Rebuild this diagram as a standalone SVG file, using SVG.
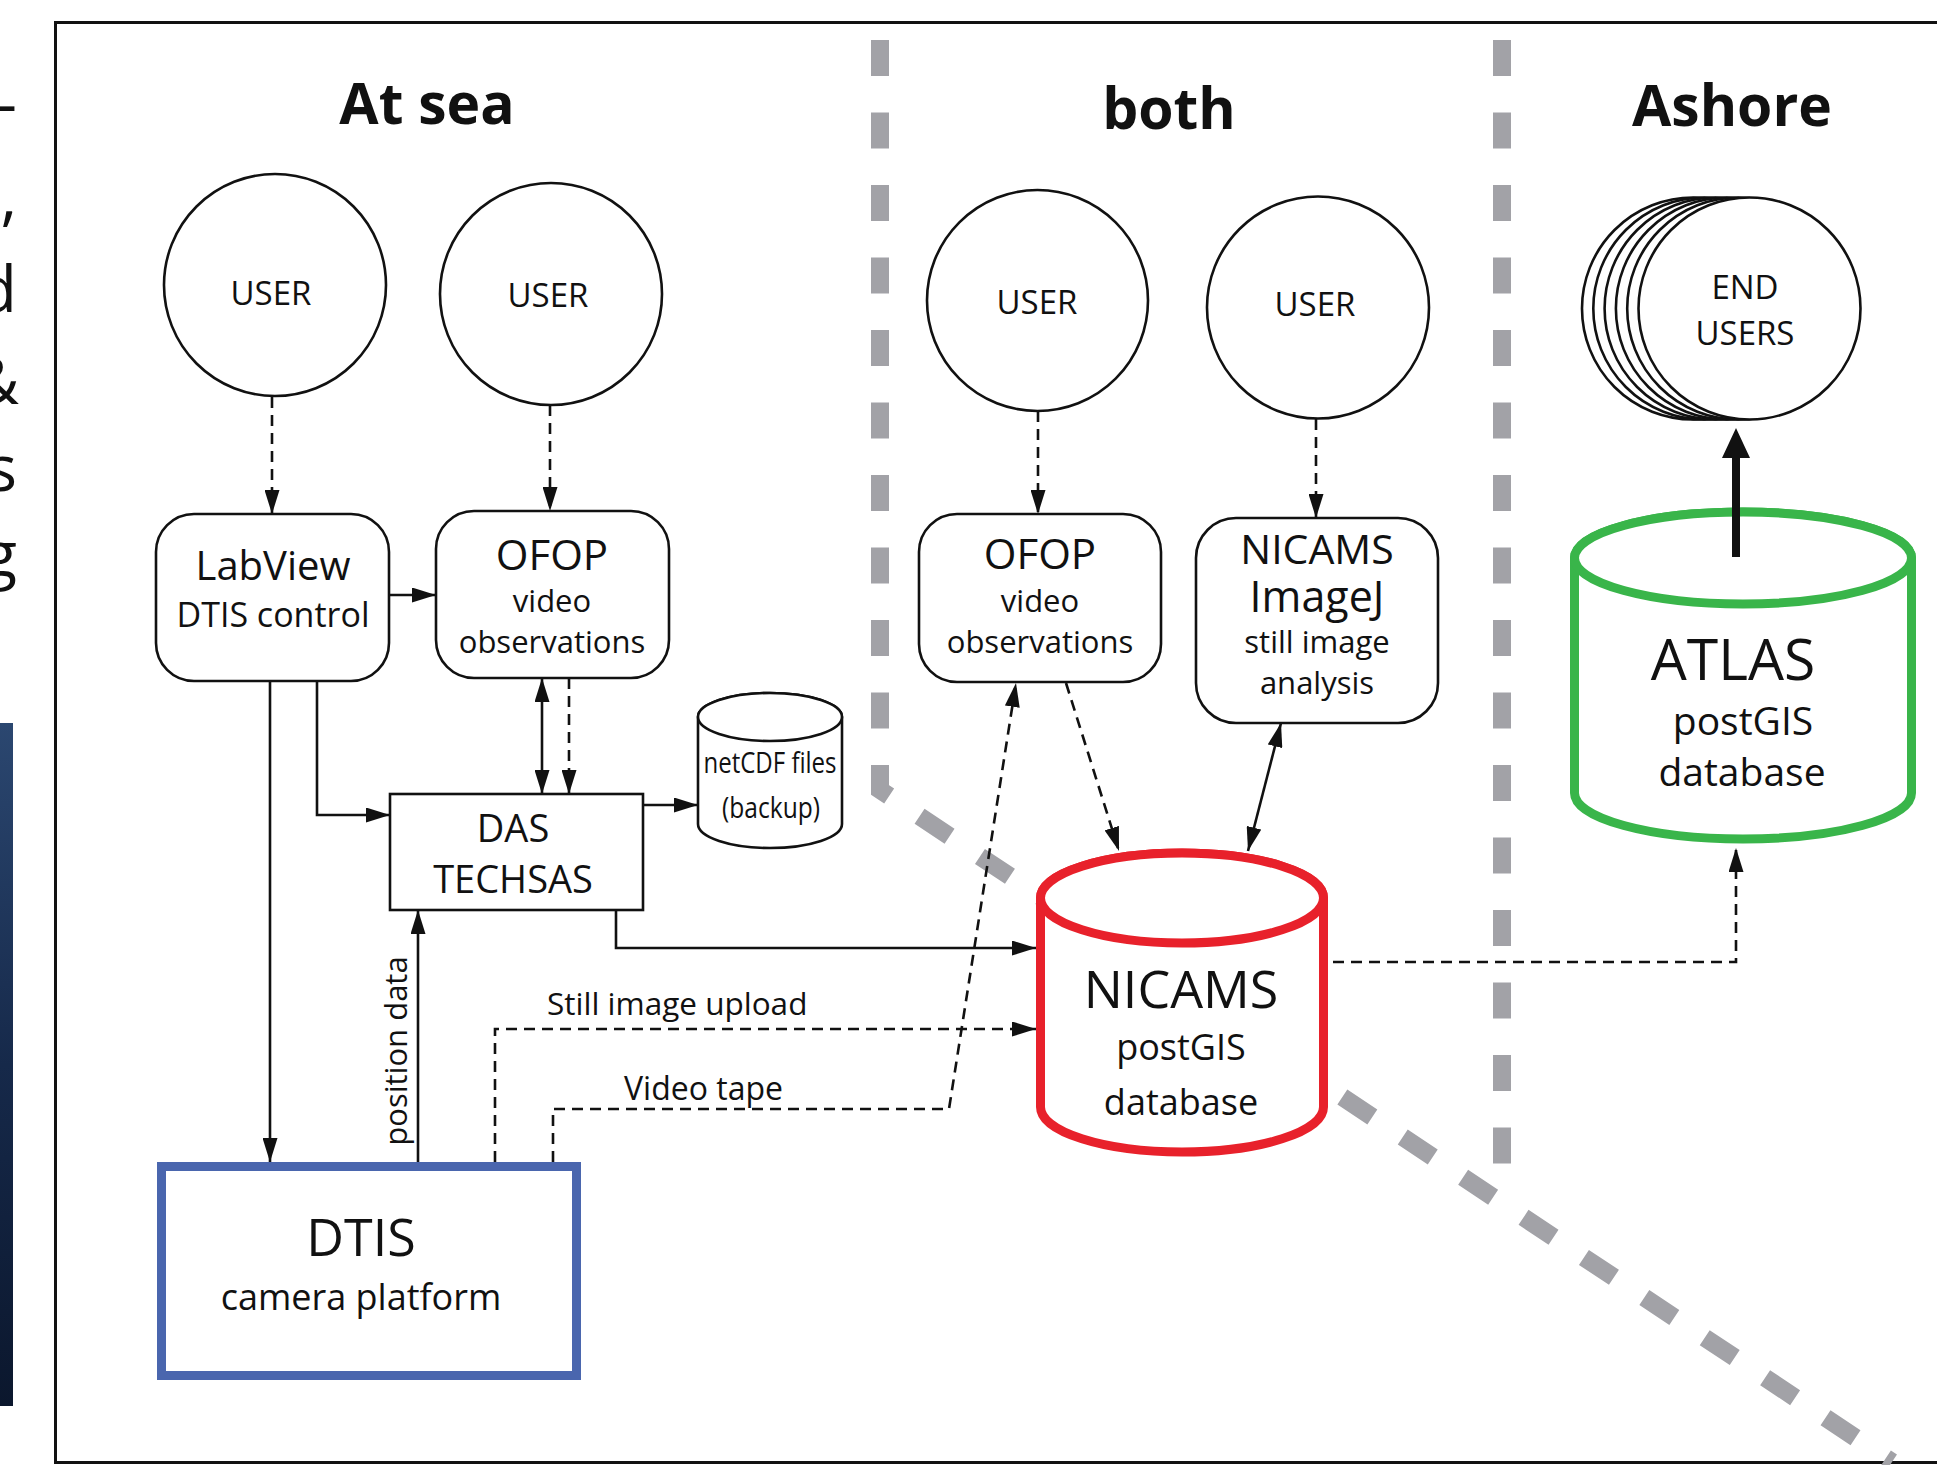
<svg xmlns="http://www.w3.org/2000/svg" width="1937" height="1465" viewBox="0 0 1937 1465">
<defs>
<style>
text{font-family:"Open Sans","Liberation Sans",sans-serif;fill:#111;}
.h{font-weight:bold;font-size:57px;text-anchor:middle;}
.m{text-anchor:middle;}
.ln{fill:none;stroke:#111;stroke-width:2.6;}
.dash{stroke-dasharray:11 7;}
.node{fill:#fff;stroke:#111;stroke-width:2.6;}
.gray{fill:none;stroke:#a2a2a7;stroke-width:18;stroke-dasharray:36 36.5;}
</style>
<marker id="ah" viewBox="0 0 24 15" refX="24" refY="7.5" markerWidth="24" markerHeight="15" markerUnits="userSpaceOnUse" orient="auto-start-reverse"><path d="M0,0 L24,7.5 L0,15 z" fill="#111"/></marker>
<linearGradient id="navy" x1="0" y1="0" x2="0" y2="1"><stop offset="0" stop-color="#2b4770"/><stop offset="0.5" stop-color="#16294a"/><stop offset="1" stop-color="#0b172d"/></linearGradient>
</defs>
<rect width="1937" height="1465" fill="#fff"/>

<g id="edge-fragments">
<rect x="0" y="723" width="13" height="683" fill="url(#navy)"/>
<text x="17" y="126" font-size="64" text-anchor="end">–</text>
<text x="17" y="219" font-size="64" text-anchor="end">,</text>
<text x="17" y="312" font-size="64" text-anchor="end">d</text>
<text x="19" y="404" font-size="64" text-anchor="end">&amp;</text>
<text x="17" y="491" font-size="64" text-anchor="end">s</text>
<text x="17" y="577" font-size="64" text-anchor="end">g</text>
</g>

<rect id="frame" x="55.5" y="22.5" width="1920" height="1440" fill="none" stroke="#111" stroke-width="3"/>

<g id="zones">
<path class="gray" d="M880 40 V790 L1892 1462"/>
<path class="gray" d="M1502 40 V1164"/>
<text class="h" x="427" y="124">At sea</text>
<text class="h" x="1169" y="129">both</text>
<text class="h" x="1732" y="126">Ashore</text>
</g>

<g id="connectors">
<path class="ln dash" d="M272 397 V514" marker-end="url(#ah)"/>
<path class="ln dash" d="M550 405 V511" marker-end="url(#ah)"/>
<path class="ln" d="M389 595 H436" marker-end="url(#ah)"/>
<path class="ln" d="M270 681 V1162" marker-end="url(#ah)"/>
<path class="ln" d="M317 681 V815 H390" marker-end="url(#ah)"/>
<path class="ln" d="M542 678 V794" marker-start="url(#ah)" marker-end="url(#ah)"/>
<path class="ln dash" d="M569 678 V794" marker-end="url(#ah)"/>
<path class="ln" d="M643 805 H698" marker-end="url(#ah)"/>
<path class="ln" d="M418 1162 V910" marker-end="url(#ah)"/>
<path class="ln" d="M616 910 V948 H1036" marker-end="url(#ah)"/>
<path class="ln dash" d="M495 1162 V1029 H1036" marker-end="url(#ah)"/>
<path class="ln dash" d="M553 1162 V1109 H949 L1016 683" marker-end="url(#ah)"/>
<path class="ln dash" d="M1038 411 V514" marker-end="url(#ah)"/>
<path class="ln dash" d="M1316 419 V518" marker-end="url(#ah)"/>
<path class="ln dash" d="M1066 683 L1119 851" marker-end="url(#ah)"/>
<path class="ln" d="M1281 723 L1248 851" marker-start="url(#ah)" marker-end="url(#ah)"/>
<path class="ln dash" d="M1333 962 H1736 V848" marker-end="url(#ah)"/>
<text x="547" y="1015" font-size="31.5">Still image upload</text>
<text x="624" y="1100" font-size="32">Video tape</text>
<text class="m" x="407" y="1051" font-size="31" transform="rotate(-90 407 1051)">position data</text>
</g>

<g id="user1"><circle class="node" cx="275" cy="285" r="111"/><text class="m" x="271" y="305" font-size="33">USER</text></g>
<g id="user2"><circle class="node" cx="551" cy="294" r="111"/><text class="m" x="548" y="307" font-size="33">USER</text></g>
<g id="user3"><circle class="node" cx="1037.5" cy="300.5" r="110.5"/><text class="m" x="1037" y="314" font-size="33">USER</text></g>
<g id="user4"><circle class="node" cx="1318" cy="307.5" r="111"/><text class="m" x="1315" y="316" font-size="33">USER</text></g>

<g id="labview"><rect class="node" x="156" y="514" width="233" height="167" rx="38"/>
<text class="m" x="273" y="580" font-size="40">LabView</text>
<text class="m" x="273" y="627" font-size="34">DTIS control</text></g>

<g id="ofop1"><rect class="node" x="436" y="511" width="233" height="167" rx="38"/>
<text class="m" x="552" y="570" font-size="42">OFOP</text>
<text class="m" x="552" y="612" font-size="31">video</text>
<text class="m" x="552" y="653" font-size="31">observations</text></g>

<g id="das"><rect class="node" x="390" y="794" width="253" height="116"/>
<text class="m" x="513" y="842" font-size="38">DAS</text>
<text class="m" x="513" y="893" font-size="38">TECHSAS</text></g>

<g id="netcdf"><path class="node" d="M698 717 V824 A72 24 0 0 0 842 824 V717 A72 24 0 0 0 698 717 Z"/>
<ellipse class="node" cx="770" cy="717" rx="72" ry="24"/>
<text class="m" x="770" y="773" font-size="30" textLength="133" lengthAdjust="spacingAndGlyphs">netCDF files</text>
<text class="m" x="771" y="818" font-size="30" textLength="98" lengthAdjust="spacingAndGlyphs">(backup)</text></g>

<g id="dtis"><rect x="161.5" y="1166.5" width="415" height="209" fill="#fff" stroke="#4a66ae" stroke-width="9"/>
<text class="m" x="361" y="1256" font-size="52">DTIS</text>
<text class="m" x="361" y="1310" font-size="36">camera platform</text></g>

<g id="ofop2"><rect class="node" x="919" y="514" width="242" height="168" rx="38"/>
<text class="m" x="1040" y="569" font-size="42">OFOP</text>
<text class="m" x="1040" y="612" font-size="31">video</text>
<text class="m" x="1040" y="653" font-size="31">observations</text></g>

<g id="imagej"><rect class="node" x="1196" y="518" width="242" height="205" rx="40"/>
<text class="m" x="1317" y="564" font-size="41">NICAMS</text>
<text class="m" x="1317" y="612" font-size="43">ImageJ</text>
<text class="m" x="1317" y="653" font-size="31">still image</text>
<text class="m" x="1317" y="694" font-size="31">analysis</text></g>

<g id="nicams"><path d="M1040.5 898 V1107 A141.5 45 0 0 0 1323.5 1107 V898 A141.5 45 0 0 0 1040.5 898 Z" fill="#fff" stroke="#e8212b" stroke-width="9"/>
<ellipse cx="1182" cy="898" rx="141.5" ry="45" fill="#fff" stroke="#e8212b" stroke-width="9"/>
<text class="m" x="1181" y="1008" font-size="52">NICAMS</text>
<text class="m" x="1181" y="1060" font-size="36">postGIS</text>
<text class="m" x="1181" y="1115" font-size="36">database</text></g>

<g id="endusers">
<circle class="node" cx="1693" cy="308.5" r="111"/>
<circle class="node" cx="1704.3" cy="308.5" r="111"/>
<circle class="node" cx="1715.6" cy="308.5" r="111"/>
<circle class="node" cx="1726.9" cy="308.5" r="111"/>
<circle class="node" cx="1738.2" cy="308.5" r="111"/>
<circle class="node" cx="1749.5" cy="308.5" r="111"/>
<text class="m" x="1745" y="299" font-size="33">END</text>
<text class="m" x="1745" y="345" font-size="33">USERS</text></g>

<g id="atlas"><path d="M1574.5 558 V793 A168.5 46 0 0 0 1911.5 793 V558 A168.5 46 0 0 0 1574.5 558 Z" fill="#fff" stroke="#39b54a" stroke-width="9"/>
<ellipse cx="1743" cy="558" rx="168.5" ry="46" fill="#fff" stroke="#39b54a" stroke-width="9"/>
<text class="m" x="1733" y="680" font-size="57">ATLAS</text>
<text class="m" x="1743" y="735" font-size="39">postGIS</text>
<text class="m" x="1742" y="786" font-size="39">database</text></g>

<g id="atlas-to-users">
<line x1="1736" y1="557" x2="1736" y2="455" stroke="#111" stroke-width="8"/>
<path d="M1736 428 L1750 458 L1722 458 Z" fill="#111"/>
</g>
</svg>
